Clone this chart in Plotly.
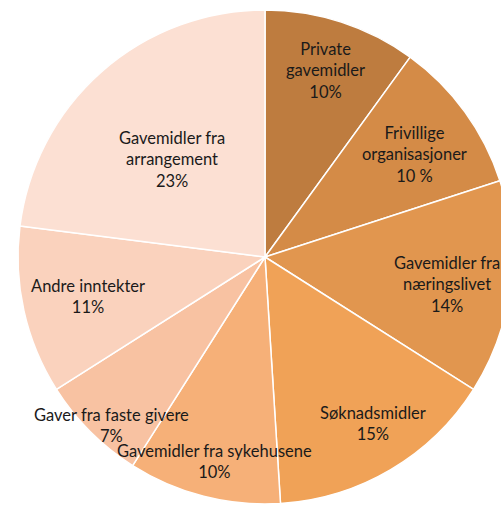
import math
import plotly.graph_objects as go

# Data
categories = [
    "Private gavemidler",
    "Frivillige organisasjoner",
    "Gavemidler fra næringslivet",
    "Søknadsmidler",
    "Gavemidler fra sykehusene",
    "Gaver fra faste givere",
    "Andre inntekter",
    "Gavemidler fra arrangement",
]
values = [10, 10, 14, 15, 10, 7, 11, 23]
label_lines = [
    "Private<br>gavemidler",
    "Frivillige<br>organisasjoner",
    "Gavemidler fra<br>næringslivet",
    "Søknadsmidler",
    "Gavemidler fra sykehusene",
    "Gaver fra faste givere",
    "Andre inntekter",
    "Gavemidler fra<br>arrangement",
]
pct_labels = ["10%", "10 %", "14%", "15%", "10%", "7%", "11%", "23%"]

# Style
colors = ["#BE7C3F", "#D48B47", "#E1964F", "#F0A257", "#F6B078",
          "#F8C2A2", "#FAD2BD", "#FCE0D3"]
label_radius = [0.80, 0.74, 0.75, 0.81, 0.86, 0.93, 0.74, 0.55]
label_angle_offset = [0, 1.5, 1.5, -2.5, -0.6, -2.7, 0, -2.4]  # degrees

W, H = 530, 507
cx, cy, R = 265, 257, 245
Rdom = 247

fig = go.Figure(go.Pie(
    labels=categories,
    values=values,
    sort=False,
    direction="clockwise",
    rotation=0,
    marker=dict(colors=colors, line=dict(color="white", width=1.5)),
    textinfo="none",
    hoverinfo="label+percent",
    showlegend=False,
    domain=dict(x=[0, 1], y=[(H - cy - Rdom) / H, (H - cy + Rdom) / H]),
))

total = sum(values)
cum = 0
annotations = []
for lab, pct, v, rf, da in zip(label_lines, pct_labels, values, label_radius,
                               label_angle_offset):
    mid = (cum + v / 2) / total * 2 * math.pi + math.radians(da)
    cum += v
    px = cx + R * rf * math.sin(mid)
    py = cy - R * rf * math.cos(mid)
    annotations.append(dict(
        x=px / W, y=1 - py / H, xref="paper", yref="paper",
        text=f"{lab}<br>{pct}", showarrow=False,
        xanchor="center", yanchor="middle", align="center",
        font=dict(family="Lato, Open Sans, sans-serif", size=16.5, color="#1a1a1a"),
    ))

fig.update_layout(
    width=W, height=H,
    margin=dict(l=0, r=0, t=0, b=0),
    paper_bgcolor="white",
    plot_bgcolor="white",
    annotations=annotations,
)

fig.write_html(
    "out.html",
    config={"displayModeBar": False},
    post_script="document.body.style.margin='0';document.body.style.overflow='hidden';",
)
